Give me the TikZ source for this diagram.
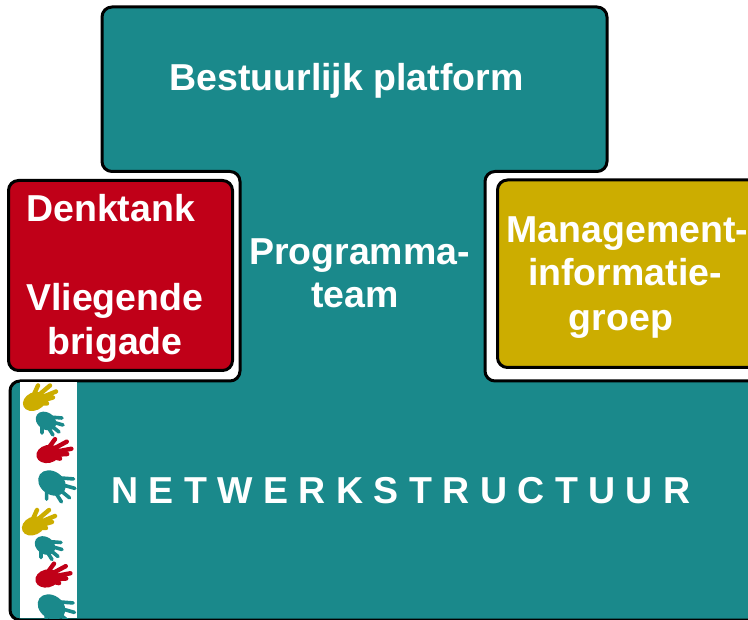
\documentclass[tikz,border=0pt]{standalone}
\usepackage{fontspec}
\setmainfont{Liberation Sans}
\definecolor{tealc}{HTML}{1A898B}
\definecolor{redc}{HTML}{C00018}
\definecolor{yelc}{HTML}{CCAD00}
\tikzset{
  lbl/.style={text=white,font=\fontsize{37.5}{44}\selectfont\bfseries,inner sep=0pt,anchor=base},
  lblw/.style={lbl,anchor=base west},
  outl/.style={draw=black,line width=3pt,rounded corners=10pt},
  boxn/.style={outl,inner sep=0pt,outer sep=0pt,anchor=south west},
  pics/handup/.style={code={
    \fill[#1,rotate=25] (0,1) ellipse[x radius=12,y radius=9];
    \draw[#1,line width=4.4pt,line cap=round]
      (-1,-4) -- (4,-15)
      (3,-4) -- (16,-15)
      (5,-2) -- (22,-9)
      (5,1) -- (19,-3)
      (3,3) -- (13,3);
  }},
  pics/handdown/.style={code={
    \fill[#1,rotate=-35] (0,0) ellipse[x radius=11,y radius=8.5];
    \draw[#1,line width=3.6pt,line cap=round]
      (3,-4) -- (16,-3)
      (3,0) -- (17,4)
      (2,2) -- (13,11)
      (0,3) -- (7,14)
      (-4,3) -- (-4,12);
  }}
}
\begin{document}
\begin{tikzpicture}[x=1pt,y=-1pt]
\useasboundingbox (0,0) rectangle (748,620);
\fill[white] (0,0) rectangle (748,620);
\draw[outl,fill=tealc]
  (102,7) -- (607,7) -- (607,171.5) -- (485,171.5) -- (485,381) -- (760,381) -- (760,620)
  -- (10,620) -- (10,381) -- (240,381) -- (240,171.5) -- (102,171.5) -- cycle;
\node[boxn,fill=redc,minimum width=224pt,minimum height=190pt] (denk) at (8.5,370.5) {};
\node[boxn,fill=yelc,minimum width=270pt,minimum height=187.5pt] (mgmt) at (497.5,367.5) {};
\fill[white] (20,382.5) rectangle (76.5,618);
\begin{scope}
\clip (20,382.5) rectangle (76.5,618);
\pic at (34,400.5) {handup={yelc}};
\pic at (46,421) {handdown={tealc}};
\pic[rotate=-12] at (48,453) {handup={redc}};
\pic[scale=1.35] at (52,483) {handdown={tealc}};
\pic at (33,525) {handup={yelc}};
\pic at (45,545.5) {handdown={tealc}};
\pic[rotate=-12] at (47,577.5) {handup={redc}};
\pic[scale=1.35] at (51.5,607) {handdown={tealc}};
\end{scope}
\node[lbl] (best) at (346.5,91) {Bestuurlijk platform};
\node[lblw] (dt) at (26,222) {Denktank};
\node[lblw] (vl) at (26,311) {Vliegende};
\node[lbl] (br) at (115,355) {brigade};
\node[lbl] (pr) at (359.5,265) {Programma-};
\node[lbl] (te) at (355,308) {team};
\node[lbl] (ma) at (627.5,243) {Management-};
\node[lbl] (in) at (625,286) {informatie-};
\node[lbl] (gr) at (621,331) {groep};
\node[lbl] (nw) at (401,504) {N E T W E R K S T R U C T U U R};
\end{tikzpicture}
\end{document}
